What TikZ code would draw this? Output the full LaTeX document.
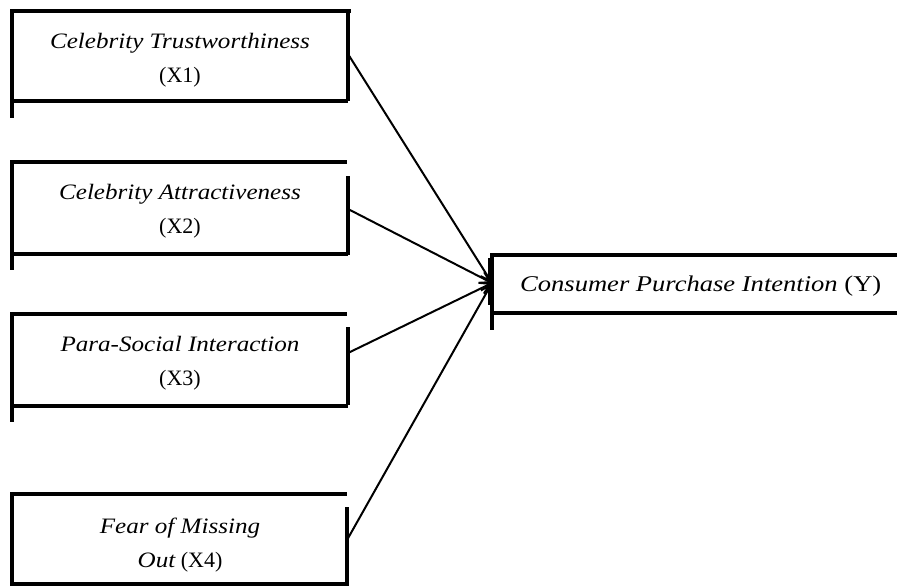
\documentclass[tikz,border=0pt]{standalone}
\usepackage{fontspec}
\setmainfont{Liberation Serif}
\newfontfamily\lefit[FakeStretch=1.14]{Liberation Serif}
\newfontfamily\yfont[FakeStretch=1.18]{Liberation Serif}
\usetikzlibrary{arrows.meta}
\begin{document}
\begin{tikzpicture}[x=1pt,y=-1pt,
  edge/.style={line width=3.2pt,line cap=rect},
  conn/.style={line width=2pt,-{Straight Barb[length=10pt,width=12pt,line width=2pt]}},
  lbl/.style={align=center,inner sep=0pt,font=\fontsize{22}{34}\selectfont},
  ylbl/.style={anchor=base west,inner sep=0pt,font=\fontsize{22.5}{27}\selectfont}]
\useasboundingbox[fill=white] (0,0) rectangle (897,586);
% box X1
\draw[edge] (12,11) -- (349,11);
\draw[edge] (12,11) -- (12,116);
\draw[edge] (12,101) -- (346,101);
\draw[edge] (348,11) -- (348,99);
% box X2
\draw[edge] (12,162) -- (345,162);
\draw[edge] (12,162) -- (12,268);
\draw[edge] (12,254) -- (346,254);
\draw[edge] (348,178) -- (348,253);
% box X3
\draw[edge] (12,314) -- (345,314);
\draw[edge] (12,314) -- (12,420);
\draw[edge] (12,406) -- (346,406);
\draw[edge] (348,329) -- (348,403);
% box X4
\draw[edge] (12,494) -- (345,494);
\draw[edge] (12,494) -- (12,586);
\draw[edge] (12,584) -- (347,584);
\draw[edge] (347,509) -- (347,584);
% box Y
\draw[edge] (492,255) -- (897,255);
\draw[edge] (492,255) -- (492,328);
\draw[edge] (492,313) -- (897,313);
\draw[edge] (490,260) -- (490,303);
% labels
\node[lbl] (t1) at (180,60) {{\lefit\itshape Celebrity Trustworthiness}\\(X1)};
\node[lbl] (t2) at (180,211) {{\lefit\itshape Celebrity Attractiveness}\\(X2)};
\node[lbl] (t3) at (180,363) {{\lefit\itshape Para-Social Interaction}\\(X3)};
\node[lbl] (t4) at (180,545) {{\lefit\itshape Fear of Missing}\\{\lefit\itshape Out} (X4)};
\node[ylbl] (ty) at (520,291) {\yfont{\itshape Consumer Purchase Intention} (Y)};
% connectors
\coordinate (s1) at (348,54);
\coordinate (s2) at (348,209);
\coordinate (s3) at (348,353);
\coordinate (s4) at (347,540);
\coordinate (tip) at (492,283);
\draw[conn] (s1) -- (tip);
\draw[conn] (s2) -- (tip);
\draw[conn] (s3) -- (tip);
\draw[conn] (s4) -- (tip);
\end{tikzpicture}
\end{document}
